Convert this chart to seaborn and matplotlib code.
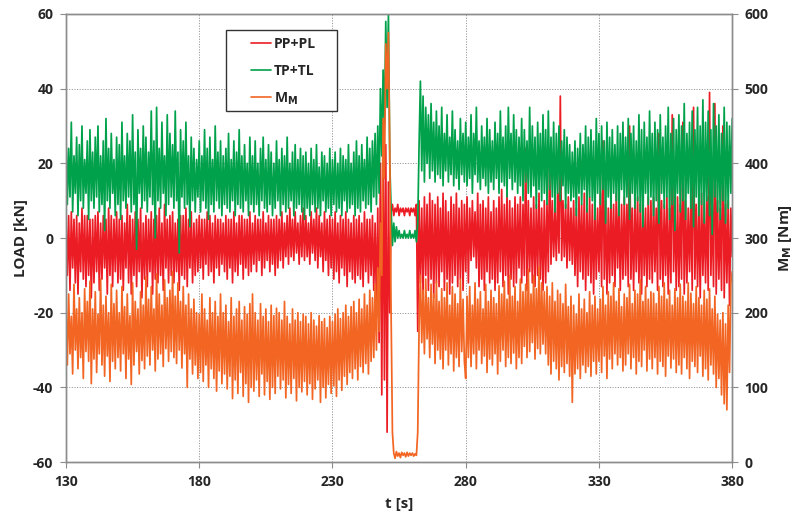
"""Axle load and motor torque over time (transient near t = 250 s)."""

import matplotlib
import matplotlib.pyplot as plt
import numpy as np
import pandas as pd
import seaborn as sns
from matplotlib.lines import Line2D
from matplotlib.patches import Rectangle

matplotlib.use("Agg")

# ---------------------------------------------------------------------------
# Data, two samples per second (130 ... 380 s)
# one row = 10 s
# ---------------------------------------------------------------------------
t_s = np.arange(130, 380.5, 0.5)

# PP+PL [kN]
pp_pl = [
    5, -10, 6, -14, 7, -8, 5, -12, 6, -15, 4, -9, 8, -11, 6, -13, 6, -10, 5, -16,
    5, -12, 6, -9, 7, -14, 4, -11, 6, -8, 5, -15, 8, -10, 6, -13, 5, -9, 7, -12,
    5, -11, 6, -14, 4, -8, 9, -12, 6, -15, 5, -10, 7, -13, 5, -9, 8, -16, 4, -11,
    6, -13, 5, -9, 7, -15, 5, -11, 6, -12, 8, -10, 4, -14, 9, -8, 5, -12, 6, -10,
    7, -12, 4, -9, 5, -14, 6, -10, 6, -11, 8, -13, 5, -8, 7, -12, 4, -10, 5, -9,
    6, -8, 5, -11, 5, -7, 7, -10, 6, -9, 4, -12, 6, -8, 5, -10, 5, -7, 4, -9,
    6, -11, 5, -8, 5, -12, 7, -9, 4, -10, 6, -7, 6, -11, 5, -8, 5, -10, 7, -9,
    4, -7, 6, -9, 5, -6, 5, -10, 7, -8, 4, -6, 6, -9, 5, -7, 5, -10, 6, -8,
    5, -6, 7, -8, 4, -5, 6, -7, 8, -5, 5, -6, 7, -4, 4, -7, 6, -5, 8, -6,
    6, -5, 4, -7, 7, -4, 5, -6, 8, -8, 6, -5, 4, -9, 7, -6, 5, -10, 6, -8,
    5, -11, 7, -9, 4, -12, 6, -8, 5, -10, 7, -13, 5, -9, 4, -11, 6, -12, 5, -10,
    6, -11, 4, -13, 7, -9, 5, -12, 5, -10, 6, -14, 4, -18, 8, -28, 20, -42, 28, -38,
    25, -52, 15, -20, 7, 9, 6, 8, 7, 9, 6, 8, 7, 8, 6, 8, 7, 8, 6, 8,
    7, 8, 6, 9, -25, 10, -12, 8, -15, 11, -10, 9, -14, 12, -11, 10, -16, 9, -12, 11,
    -13, 8, -9, 12, -14, 10, -11, 7, -15, 11, -12, 9, -10, 12, -13, 8, -11, 10, -14, 9,
    -9, 11, -12, 8, -6, 10, -5, 7, -8, 12, -13, 9, -11, 10, -14, 8, -9, 11, -12, 7,
    -11, 10, -14, 8, -12, 11, -9, 13, -13, 9, -10, 12, -15, 10, -11, 8, -13, 11, -12, 9,
    -8, 11, -12, 9, -10, 24, -14, 10, -9, 8, -12, 11, -13, 9, -10, 12, -11, 8, -14, 10,
    -12, 9, -9, 22, -7, 10, -5, 8, -6, 12, -4, 38, -6, 10, -5, 9, -8, 11, -6, 8,
    -7, 10, -10, 8, -13, 11, -9, 9, -11, 12, -14, 8, -10, 11, -12, 9, -15, 10, -11, 8,
    -9, 12, -13, 26, -11, 10, -15, 8, -12, 11, -10, 9, -13, 12, -8, 10, -14, 9, -11, 11,
    -10, 9, -13, 30, -11, 8, -14, 10, -9, 11, -12, 9, -15, 12, -10, 8, -13, 11, -11, 10,
    -12, 11, -9, 8, -14, 28, -11, 10, -13, 9, -10, 11, -15, 8, -12, 33, -9, 10, -14, 11,
    -13, 9, -11, 31, -15, 10, -12, 8, -9, 11, -14, 35, -11, 9, -13, 10, -16, 12, -10, 9,
    -12, 11, -14, 39, -10, 9, -13, 36, -15, 10, -11, 8, -14, 30, -16, 9, -12, 10, -18, 8,
    -5,
]

# TP+TL [kN]
tp_tl = [
    28, 9, 24, 11, 31, 7, 22, 12, 27, 6, 25, 10, 30, 8, 21, 12, 26, 5, 29, 10,
    23, 8, 27, 11, 30, 7, 22, 9, 26, 2, 32, 10, 24, 8, 28, 12, 21, 6, 27, 9,
    25, 5, 31, 10, 22, 8, 28, 11, 26, 7, 33, 9, 23, -3, 29, 12, 24, 8, 30, 10,
    27, 7, 23, 11, 34, 9, 26, 0, 35, 10, 24, 8, 31, 12, 22, 6, 33, 9, 28, 11,
    25, 8, 34, 10, 23, -4, 29, 11, 26, 8, 31, 9, 22, 3, 27, 10, 24, 7, 21, 11,
    26, 7, 22, 10, 29, 8, 24, 5, 27, 9, 21, 7, 30, 10, 23, 8, 26, 6, 22, 9,
    24, 8, 28, 7, 21, 10, 26, 6, 23, 9, 29, 8, 22, 7, 25, 10, 20, 6, 27, 9,
    22, 7, 26, 9, 20, 6, 24, 10, 27, 8, 21, 7, 25, 9, 23, 6, 20, 8, 26, 10,
    21, 6, 24, 9, 22, 7, 27, 8, 20, 10, 23, 6, 25, 8, 21, 9, 24, 7, 22, 5,
    23, 8, 20, 6, 24, 9, 21, 7, 25, 8, 19, 6, 23, 10, 22, 7, 20, 8, 24, 6,
    21, 9, 23, 7, 20, 8, 24, 6, 22, 10, 21, 7, 25, 8, 20, 9, 23, 6, 26, 8,
    22, 7, 25, 10, 21, 8, 27, 9, 24, 7, 26, 11, 28, 9, 30, 12, 40, 22, 45, 30,
    58, 35, 60, 20, 8, -2, 4, -1, 3, 0, 2, 0, 1, 0, 2, 0, 1, 0, 2, 0,
    1, 0, 2, -1, 4, 25, 42, 18, 38, 15, 35, 20, 33, 16, 36, 18, 31, 15, 34, 17,
    30, 16, 35, 14, 28, 18, 33, 15, 27, 17, 34, 14, 29, 16, 26, 13, 32, 17, 28, 15,
    31, 14, 27, 16, 33, 12, 28, 17, 35, 15, 26, 13, 30, 16, 27, 14, 32, 12, 29, 15,
    26, 13, 31, 16, 28, 12, 34, 15, 27, 14, 30, 11, 35, 16, 28, 13, 33, 15, 29, 12,
    27, 14, 32, 10, 29, 15, 26, 12, 35, 11, 30, 14, 27, 8, 31, 13, 28, 10, 33, 12,
    29, 9, 34, 13, 27, 11, 31, 7, 28, 12, 30, 10, 26, 14, 29, 8, 27, 12, 25, 10,
    23, 11, 26, 6, 24, 12, 28, 9, 25, 13, 30, 7, 27, 11, 29, 10, 26, 5, 32, 12,
    28, 9, 30, 13, 26, 4, 31, 11, 27, 8, 29, 12, 25, 10, 30, 6, 28, 13, 31, 9,
    27, 11, 32, 5, 28, 12, 30, 8, 26, 10, 33, 7, 29, 3, 31, 12, 27, 9, 34, 11,
    28, 6, 31, 10, 29, 4, 33, 12, 27, 8, 30, 11, 35, 5, 28, 9, 32, 2, 29, 12,
    33, 7, 30, 10, 36, 5, 28, 12, 31, 8, 34, 3, 29, 11, 35, 6, 30, 9, 37, 4,
    31, 10, 34, 6, 29, 1, 36, 11, 30, 7, 33, 5, 28, 10, 35, 4, 31, 8, 30, 12,
    32,
]

# M_M [Nm]
m_m = [
    210, 130, 225, 145, 195, 118, 238, 150, 205, 125, 220, 140, 200, 112, 232, 148, 215, 135, 242, 105,
    205, 138, 228, 120, 198, 145, 245, 130, 210, 115, 222, 142, 200, 108, 238, 135, 212, 125, 230, 140,
    200, 122, 235, 145, 208, 112, 225, 138, 196, 104, 240, 130, 215, 148, 205, 118, 228, 136, 210, 125,
    248, 142, 218, 130, 235, 150, 205, 122, 252, 138, 225, 145, 210, 128, 244, 152, 220, 135, 230, 148,
    255, 140, 222, 132, 240, 150, 215, 126, 235, 145, 210, 100, 225, 138, 205, 118, 218, 130, 200, 112,
    198, 120, 225, 108, 205, 130, 190, 100, 220, 125, 200, 112, 215, 95, 195, 122, 225, 105, 200, 118,
    210, 98, 188, 115, 220, 85, 195, 110, 205, 92, 215, 120, 190, 88, 208, 105, 198, 80, 212, 100,
    225, 95, 200, 110, 190, 88, 212, 118, 195, 90, 205, 108, 188, 84, 210, 100, 196, 92, 206, 115,
    200, 98, 190, 110, 215, 86, 195, 104, 185, 92, 205, 112, 190, 82, 200, 100, 188, 94, 198, 108,
    195, 90, 185, 105, 200, 84, 190, 98, 182, 110, 196, 80, 188, 100, 192, 86, 180, 104, 195, 92,
    188, 102, 198, 88, 205, 110, 192, 96, 200, 115, 210, 104, 195, 120, 208, 112, 215, 125, 200, 110,
    218, 128, 205, 120, 225, 132, 210, 118, 230, 135, 220, 140, 238, 150, 260, 175, 320, 250, 460, 380,
    560, 500, 575, 420, 200, 40, 12, 5, 14, 8, 12, 6, 13, 9, 12, 7, 13, 8, 12, 9,
    12, 8, 11, 9, 40, 180, 250, 160, 230, 145, 245, 165, 220, 140, 238, 158, 225, 132, 242, 150,
    215, 138, 232, 125, 220, 150, 240, 130, 210, 145, 235, 122, 225, 140, 212, 128, 245, 148, 218, 135,
    112, 222, 140, 235, 128, 210, 145, 240, 125, 218, 150, 228, 132, 205, 142, 238, 120, 215, 138, 230,
    130, 220, 145, 212, 118, 236, 135, 225, 150, 242, 128, 218, 140, 250, 132, 222, 146, 235, 125, 215,
    140, 245, 132, 228, 155, 238, 140, 258, 148, 225, 160, 250, 138, 232, 152, 262, 145, 240, 158, 228,
    145, 235, 130, 222, 118, 240, 135, 215, 125, 230, 110, 225, 128, 212, 120, 238, 132, 208, 115, 222,
    80, 210, 118, 198, 125, 225, 112, 205, 130, 218, 120, 200, 128, 228, 115, 210, 135, 222, 118, 205,
    135, 218, 120, 235, 142, 210, 112, 228, 138, 222, 125, 240, 145, 215, 130, 232, 140, 208, 122, 225,
    130, 220, 145, 238, 125, 212, 140, 230, 118, 225, 135, 244, 128, 215, 150, 235, 122, 218, 138, 228,
    125, 226, 140, 212, 118, 235, 135, 222, 128, 240, 115, 218, 142, 230, 126, 210, 138, 232, 120, 220,
    130, 238, 118, 222, 140, 215, 125, 240, 112, 226, 135, 212, 128, 235, 120, 220, 142, 210, 115, 230,
    125, 218, 110, 232, 130, 205, 118, 222, 100, 198, 112, 190, 90, 200, 78, 185, 70, 210, 120, 240,
    255,
]

RED = "#EC1C24"
GREEN = "#00A14B"
ORANGE = "#F26522"
GRID = "#9a9a9a"
SPINE = "#8c8c8c"

df = pd.DataFrame({"t": t_s, "pp_pl": pp_pl, "tp_tl": tp_tl, "m_m": m_m})

sns.set_theme(style="white")
plt.rcParams["font.family"] = ["Open Sans", "DejaVu Sans"]
plt.rcParams["axes.unicode_minus"] = False

fig = plt.figure(figsize=(7.95, 5.18), dpi=100)
ax = fig.add_axes([0.083, 0.108, 0.838, 0.865])
ax2 = ax.twinx()

sns.lineplot(data=df, x="t", y="pp_pl", ax=ax, color=RED, lw=1.25, estimator=None)
sns.lineplot(data=df, x="t", y="tp_tl", ax=ax, color=GREEN, lw=1.25, estimator=None)
sns.lineplot(data=df, x="t", y="m_m", ax=ax2, color=ORANGE, lw=1.25, estimator=None)

ax.set_xlim(130, 380)
ax.set_ylim(-60, 60)
ax2.set_ylim(0, 600)
ax.set_xticks(range(130, 381, 50))
ax.set_yticks(range(-60, 61, 20))
ax2.set_yticks(range(0, 601, 100))

ax.grid(True, color=GRID, ls=(0, (1.2, 1.5)), lw=0.7)
ax.set_axisbelow(True)

for a in (ax, ax2):
    for s in a.spines.values():
        s.set_color(SPINE)
        s.set_linewidth(1.0)
    a.tick_params(length=4, width=0.8, color=SPINE, labelsize=10, pad=5)
    for lab in a.get_xticklabels() + a.get_yticklabels():
        lab.set_fontweight("bold")
ax.tick_params(axis="both", direction="out", left=True, bottom=True)
ax2.tick_params(axis="y", direction="out", right=True)

ax.set_xlabel("t [s]", fontsize=11, fontweight="bold", labelpad=6)
ax.set_ylabel("LOAD [kN]", fontsize=11, fontweight="bold", labelpad=4)
ax2.set_ylabel("M$_\\mathbf{M}$ [Nm]", fontsize=11, fontweight="bold", labelpad=6)

# legend box is wider than the entries, so the frame is drawn separately
ax2.add_patch(Rectangle((0.240, 0.783), 0.167, 0.181, transform=ax2.transAxes,
                        facecolor="white", edgecolor="#333333", lw=1.0, zorder=4))
handles = [
    Line2D([], [], color=RED, lw=1.2, label="PP+PL"),
    Line2D([], [], color=GREEN, lw=1.2, label="TP+TL"),
    Line2D([], [], color=ORANGE, lw=1.2, label="M$_\\mathbf{M}$"),
]
leg = ax2.legend(
    handles=handles,
    loc="upper left",
    bbox_to_anchor=(0.277, 0.948),
    frameon=False,
    handlelength=1.5,
    handletextpad=0.2,
    labelspacing=0.9,
    borderpad=0,
    borderaxespad=0,
    prop={"size": 10, "weight": "bold"},
)
leg.set_zorder(5)

fig.savefig("out.png", dpi=100)
plt.close(fig)
